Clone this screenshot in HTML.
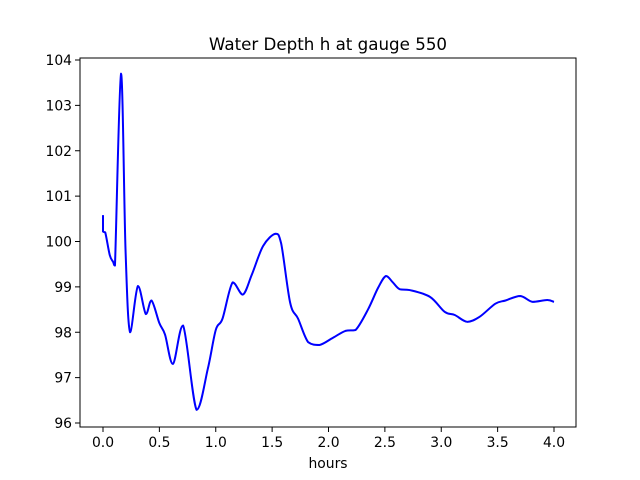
<!DOCTYPE html>
<html><head><meta charset="utf-8"><style>
html,body{margin:0;padding:0;background:#fff}
svg{display:block;font-family:"DejaVu Sans","Liberation Sans",sans-serif}
</style></head><body>
<svg id="chart" width="640" height="480">
<rect width="640" height="480" fill="#fff"/>
<text x="328" y="50" font-size="16.7" text-anchor="middle">Water Depth h at gauge 550</text>
<g id="ticks"></g>
<path id="line" fill="none" stroke="#0000ff" stroke-width="2" stroke-linejoin="round"/>
<rect x="80" y="58" width="496" height="369" fill="none" stroke="#000" stroke-width="1"/>
<text x="328" y="468" font-size="13.9" text-anchor="middle">hours</text>
</svg>
<script>
const hours=[0,0,0.02,0.06,0.09,0.106,0.16,0.2,0.24,0.31,0.38,0.43,0.5,0.55,0.62,0.71,0.83,0.93,1.0,1.06,1.15,1.24,1.32,1.42,1.53,1.58,1.66,1.73,1.82,1.92,2.04,2.15,2.24,2.35,2.44,2.51,2.57,2.63,2.72,2.9,3.03,3.12,3.23,3.34,3.48,3.57,3.7,3.81,3.94,4.0];
const depth=[100.58,100.22,100.2,99.7,99.55,99.47,103.7,99.8,98.0,99.02,98.4,98.7,98.2,97.95,97.3,98.15,96.29,97.2,98.05,98.3,99.1,98.83,99.27,99.9,100.17,99.96,98.65,98.3,97.78,97.72,97.88,98.03,98.05,98.5,98.98,99.24,99.1,98.95,98.93,98.78,98.45,98.38,98.23,98.34,98.63,98.7,98.8,98.67,98.71,98.67];
const xTicks=[0,0.5,1,1.5,2,2.5,3,3.5,4];
const xTickLabels=["0.0","0.5","1.0","1.5","2.0","2.5","3.0","3.5","4.0"];
const yTicks=[96,97,98,99,100,101,102,103,104];
const yTickLabels=["96","97","98","99","100","101","102","103","104"];
const X=v=>103+v*112.75;
const Y=v=>423-(v-96)*45.375;
const NS="http://www.w3.org/2000/svg";
const g=document.getElementById('ticks');
xTicks.forEach((t,i)=>{
  const l=document.createElementNS(NS,'line');
  l.setAttribute('x1',X(t));l.setAttribute('x2',X(t));l.setAttribute('y1',427);l.setAttribute('y2',432);l.setAttribute('stroke','#000');
  
  
  g.appendChild(l);
  const tx=document.createElementNS(NS,'text');
  tx.setAttribute('x',X(t));tx.setAttribute('y',447);tx.setAttribute('font-size','13.9');tx.setAttribute('text-anchor','middle');
  tx.textContent=xTickLabels[i];
  
  
  g.appendChild(tx);
});
yTicks.forEach((t,i)=>{
  const l=document.createElementNS(NS,'line');
  l.setAttribute('x1',75);l.setAttribute('x2',80);l.setAttribute('y1',Y(t));l.setAttribute('y2',Y(t));l.setAttribute('stroke','#000');
  
  
  g.appendChild(l);
  const tx=document.createElementNS(NS,'text');
  tx.setAttribute('x',72);tx.setAttribute('y',Y(t)+5);tx.setAttribute('font-size','13.9');tx.setAttribute('text-anchor','end');
  tx.textContent=yTickLabels[i];
  
  
  g.appendChild(tx);
});
const pts=hours.map((h,i)=>[X(h),Y(depth[i])]);
let d='M'+pts[0][0]+','+pts[0][1];
const clamp=(v,a,b)=>Math.max(Math.min(a,b),Math.min(Math.max(a,b),v));
for(let i=0;i<pts.length-1;i++){
  const p0=pts[Math.max(0,i-1)],p1=pts[i],p2=pts[i+1],p3=pts[Math.min(pts.length-1,i+2)];
  if(i===0){d+=' L'+p2[0]+','+p2[1];continue;}
  const c1=[p1[0]+(p2[0]-p0[0])/6,clamp(p1[1]+(p2[1]-p0[1])/6,p1[1],p2[1])];
  const c2=[p2[0]-(p3[0]-p1[0])/6,clamp(p2[1]-(p3[1]-p1[1])/6,p1[1],p2[1])];
  d+=' C'+c1[0]+','+c1[1]+' '+c2[0]+','+c2[1]+' '+p2[0]+','+p2[1];
}
document.getElementById('line').setAttribute('d',d);
</script>
</body></html>
